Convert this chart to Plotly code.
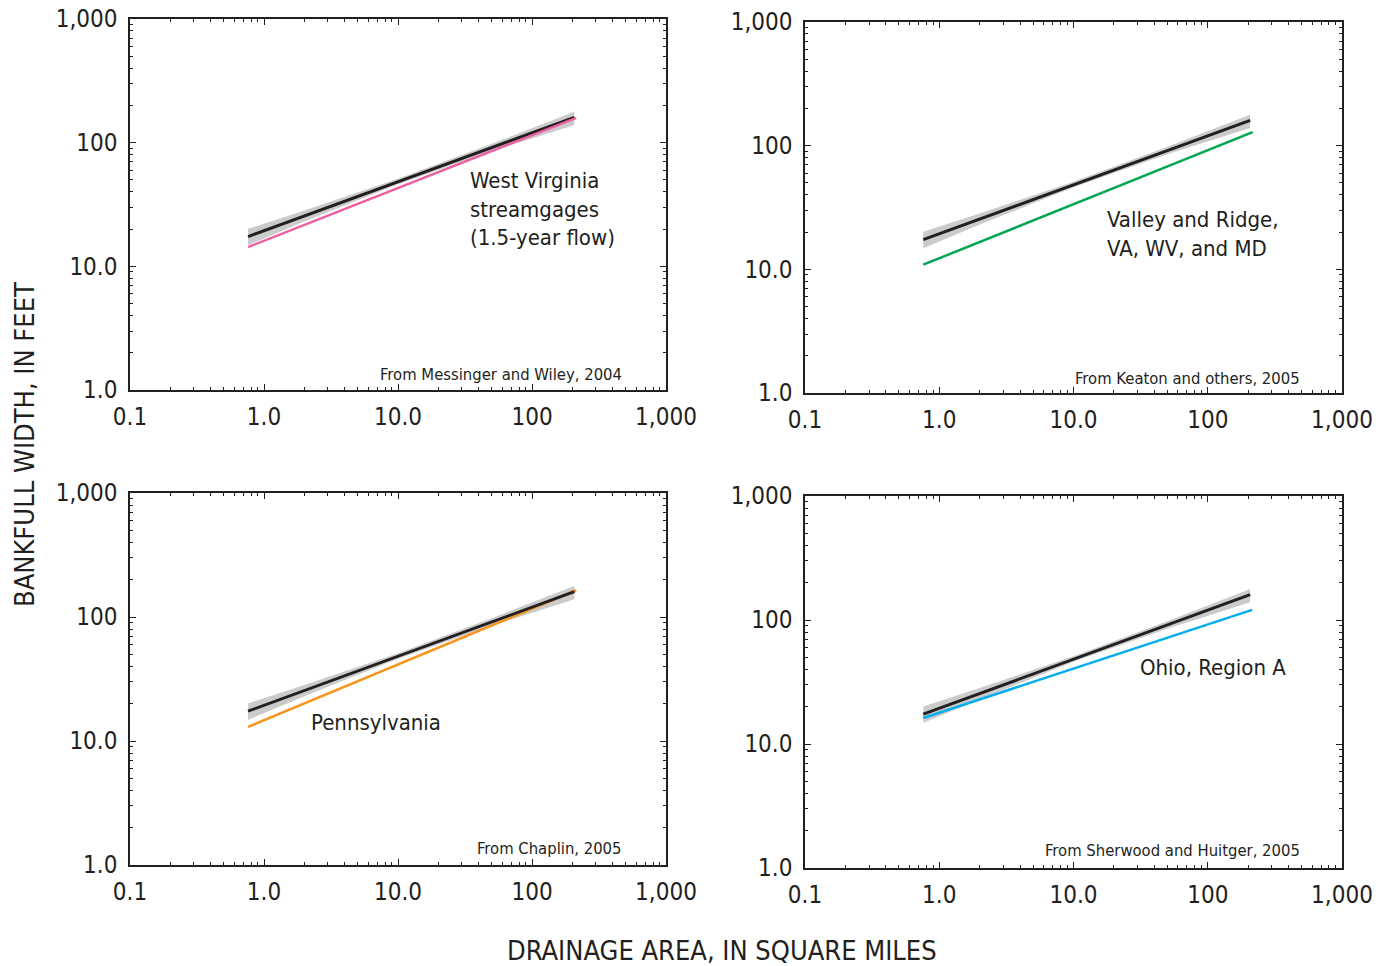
import plotly.graph_objects as go

# ---------------- data ----------------
# WV regional curve (black) and its confidence band (gray), same in all panels
wv_x = [0.76, 207]
wv_y = [17.4, 160]
band_x = [0.76, 2, 10, 50, 207]
band_upper = [20.1, 28.3, 51.0, 97.8, 178]
band_lower = [14.8, 23.0, 46.0, 85.2, 139]

# comparison curves
pink_x = [0.76, 214];  pink_y = [14.3, 158.7]     # West Virginia streamgages (1.5-yr flow)
green_x = [0.76, 216]; green_y = [10.9, 128.6]    # Valley and Ridge, VA, WV, MD
orange_x = [0.76, 214]; orange_y = [13.0, 164.4]  # Pennsylvania
blue_x = [0.76, 214];  blue_y = [16.2, 120.8]     # Ohio, Region A

x_tickvals = [0.1, 1, 10, 100, 1000]
x_ticktext = ["0.1", "1.0", "10.0", "100", "1,000"]
y_tickvals = [1, 10, 100, 1000]
y_ticktext = ["1.0", "10.0", "100", "1,000"]

panel_labels = ["West Virginia<br>streamgages<br>(1.5-year flow)",
                "Valley and Ridge,<br>VA, WV, and MD",
                "Pennsylvania",
                "Ohio, Region A"]
panel_sources = ["From Messinger and Wiley, 2004",
                 "From Keaton and others, 2005",
                 "From Chaplin, 2005",
                 "From Sherwood and Huitger, 2005"]

# ---------------- styling ----------------
FONT = "Liberation Sans Narrow, DejaVu Sans Condensed, Roboto Condensed, Arial Narrow, sans-serif"
INK = "#231f20"
W, H = 1385, 966
colors = ["#ee5fa1", "#00a651", "#f7941d", "#00aeef"]
series = [(pink_x, pink_y), (green_x, green_y), (orange_x, orange_y), (blue_x, blue_y)]

# panel frames in pixels: (left, right, top, bottom)
frames = [(130, 666, 19, 390), (805, 1342, 22, 393), (130, 666, 493, 865), (805, 1342, 496, 868)]
# label anchor positions (log10 data coords)
label_pos = [(1.52, 1.463), (1.235, 1.285), (0.336, 1.153), (1.48, 1.621)]
source_pos = [(2.687, 0.125), (2.70, 0.115), (2.687, 0.13), (2.70, 0.145)]

minor_x = [m * 10.0 ** e for e in range(-1, 3) for m in range(2, 10)]
minor_y = [m * 10.0 ** e for e in range(0, 3) for m in range(2, 10)]

fig = go.Figure()
annotations = []
for i in range(4):
    n = "" if i == 0 else str(i + 1)
    xa, ya = "x" + n, "y" + n
    # band
    fig.add_trace(go.Scatter(x=band_x + band_x[::-1], y=band_upper + band_lower[::-1],
                             fill="toself", fillcolor="#cbcbcb", line=dict(width=0),
                             mode="lines", hoverinfo="skip", showlegend=False,
                             xaxis=xa, yaxis=ya))
    sx, sy = series[i]
    if i == 0:
        fig.add_trace(go.Scatter(x=wv_x, y=wv_y, mode="lines", line=dict(color=INK, width=3),
                                 showlegend=False, xaxis=xa, yaxis=ya))
        fig.add_trace(go.Scatter(x=sx, y=sy, mode="lines", line=dict(color=colors[i], width=2.5),
                                 showlegend=False, xaxis=xa, yaxis=ya))
    else:
        fig.add_trace(go.Scatter(x=sx, y=sy, mode="lines", line=dict(color=colors[i], width=2.5),
                                 showlegend=False, xaxis=xa, yaxis=ya))
        fig.add_trace(go.Scatter(x=wv_x, y=wv_y, mode="lines", line=dict(color=INK, width=3),
                                 showlegend=False, xaxis=xa, yaxis=ya))

    l, r, t, b = frames[i]
    common = dict(type="log", showgrid=False, zeroline=False, showline=True, linecolor=INK,
                  linewidth=1.5, mirror="allticks", ticks="inside", ticklen=6, tickwidth=1.2,
                  tickcolor=INK, automargin=False, tickfont=dict(family=FONT, size=24, color=INK))
    fig.layout["xaxis" + n] = dict(common, domain=[l / W, r / W], anchor=ya, range=[-1, 3],
                                   tickvals=x_tickvals, ticktext=x_ticktext, ticklabelstandoff=4,
                                   minor=dict(tickvals=minor_x, ticks="inside", ticklen=3,
                                              tickwidth=1, tickcolor=INK, showgrid=False))
    fig.layout["yaxis" + n] = dict(common, domain=[1 - b / H, 1 - t / H], anchor=xa, range=[0, 3],
                                   tickvals=y_tickvals, ticktext=y_ticktext, ticklabelstandoff=6,
                                   minor=dict(tickvals=minor_y, ticks="inside", ticklen=3,
                                              tickwidth=1, tickcolor=INK, showgrid=False))
    lx, ly = label_pos[i]
    annotations.append(dict(x=lx, y=ly, xref=xa, yref=ya, text=panel_labels[i], showarrow=False,
                            xanchor="left", yanchor="middle", align="left",
                            font=dict(family=FONT, size=22, color=INK)))
    sx_, sy_ = source_pos[i]
    annotations.append(dict(x=sx_, y=sy_, xref=xa, yref=ya, text=panel_sources[i], showarrow=False,
                            xanchor="right", yanchor="middle", align="right",
                            font=dict(family=FONT, size=16.5, color=INK)))

annotations.append(dict(x=24 / W, y=1 - 445 / H, xref="paper", yref="paper",
                        text="BANKFULL WIDTH, IN FEET", textangle=-90, showarrow=False,
                        xanchor="center", yanchor="middle",
                        font=dict(family=FONT, size=27, color=INK)))
annotations.append(dict(x=722 / W, y=1 - 950 / H, xref="paper", yref="paper",
                        text="DRAINAGE AREA, IN SQUARE MILES", showarrow=False,
                        xanchor="center", yanchor="middle",
                        font=dict(family=FONT, size=27, color=INK)))

fig.update_layout(width=W, height=H, margin=dict(l=0, r=0, t=0, b=0, autoexpand=False),
                  paper_bgcolor="white", plot_bgcolor="white",
                  annotations=annotations, showlegend=False)

fig.write_html("out.html")
